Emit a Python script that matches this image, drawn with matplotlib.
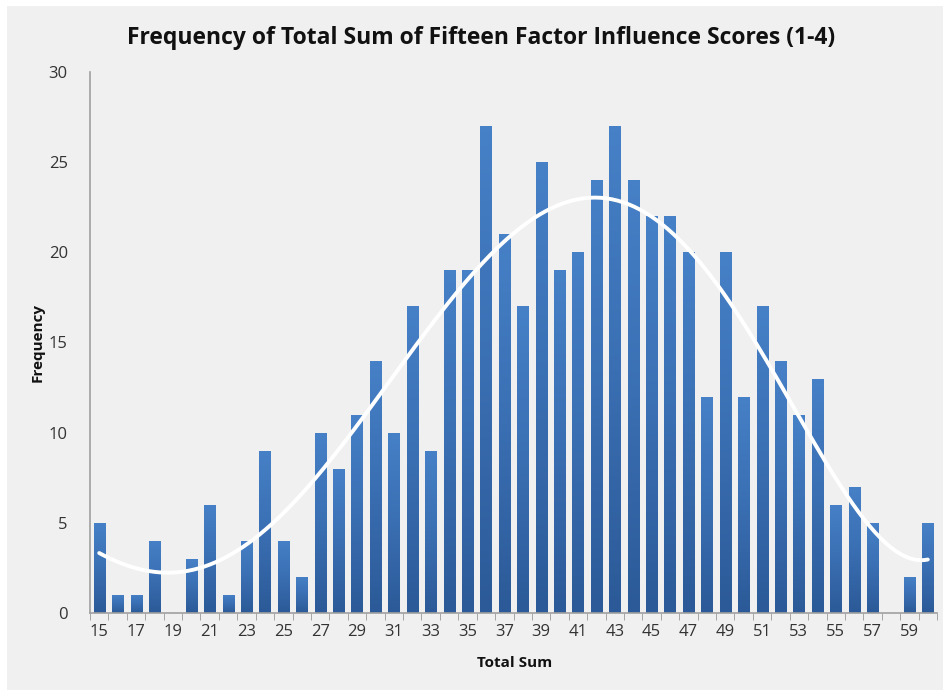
import numpy as np
import matplotlib
matplotlib.use("Agg")
import matplotlib.pyplot as plt
from matplotlib.patches import Rectangle
from matplotlib.colors import LinearSegmentedColormap

totals = list(range(15, 61))
freq = [5, 1, 1, 4, 0, 3, 6, 1, 4, 9, 4, 2, 10, 8, 11, 14, 10, 17, 9, 19,
        19, 27, 21, 17, 25, 19, 20, 24, 27, 24, 22, 22, 20, 12, 20, 12, 17, 14, 11, 13,
        6, 7, 5, 0, 2, 5]
title = "Frequency of Total Sum of Fifteen Factor Influence Scores (1-4)"
tick_labels = [str(t) if (t - 15) % 2 == 0 else "" for t in totals]

plt.rcParams['font.family'] = ['Open Sans', 'DejaVu Sans']

W, H = 943, 690
fig = plt.figure(figsize=(W / 100, H / 100), dpi=100, facecolor='white')
fig.patches.append(Rectangle((7 / W, -0.1), 1.2, 1.1 - 6 / H, transform=fig.transFigure,
                             facecolor='#f0f0f0', edgecolor='none', zorder=-10))

ax = fig.add_axes([90 / W, 1 - 613 / H, (937 - 90) / W, (613 - 72) / H])
ax.set_facecolor('none')

x = np.arange(len(totals))
bars = ax.bar(x, freq, width=0.6, color='#3a6db2', zorder=2)

# vertical gradient inside each bar
cmap = LinearSegmentedColormap.from_list('bar', ['#2c5a98', '#3a6fb3', '#4680c6'])
grad = np.linspace(0, 1, 64).reshape(-1, 1)
for b in bars:
    h = b.get_height()
    if h <= 0:
        continue
    x0 = b.get_x()
    w = b.get_width()
    im = ax.imshow(grad, cmap=cmap, origin='lower', aspect='auto',
                   extent=(x0, x0 + w, 0, h), zorder=2.1, interpolation='bilinear')
    im.set_clip_path(b)

# polynomial (order 6) trendline fitted to the data
coef = np.polyfit(x, freq, 6)
xs = np.linspace(0, len(totals) - 1, 300)
ax.plot(xs, np.polyval(coef, xs), color='white', lw=2.8, solid_capstyle='round', zorder=3)

ax.set_xlim(-0.5, len(totals) - 0.5)
ax.set_ylim(0, 30)
ax.set_yticks(range(0, 31, 5))
ax.set_xticks(x)
ax.set_xticklabels(tick_labels)
ax.set_xticks(np.arange(-0.5, len(totals), 1), minor=True)
ax.tick_params(axis='x', which='major', length=0, pad=8, labelsize=12, colors='#333333')
ax.tick_params(axis='x', which='minor', length=5, color='#999999', direction='out')
ax.tick_params(axis='y', length=0, pad=16, labelsize=12, colors='#333333')

for s in ['top', 'right']:
    ax.spines[s].set_visible(False)
for s in ['left', 'bottom']:
    ax.spines[s].set_color('#a0a0a0')
    ax.spines[s].set_linewidth(1.2)

fig.text(481 / W, 1 - 38 / H, title, ha='center', va='center', fontsize=16.5, fontweight='bold', color='#111111')
fig.text(38 / W, 1 - 342 / H, "Frequency", ha='center', va='center', rotation=90, fontsize=11, fontweight='bold', color='#111111')
fig.text(515 / W, 1 - 663 / H, "Total Sum", ha='center', va='center', fontsize=11, fontweight='bold', color='#111111')

fig.savefig("out.png", dpi=100, facecolor=fig.get_facecolor())
